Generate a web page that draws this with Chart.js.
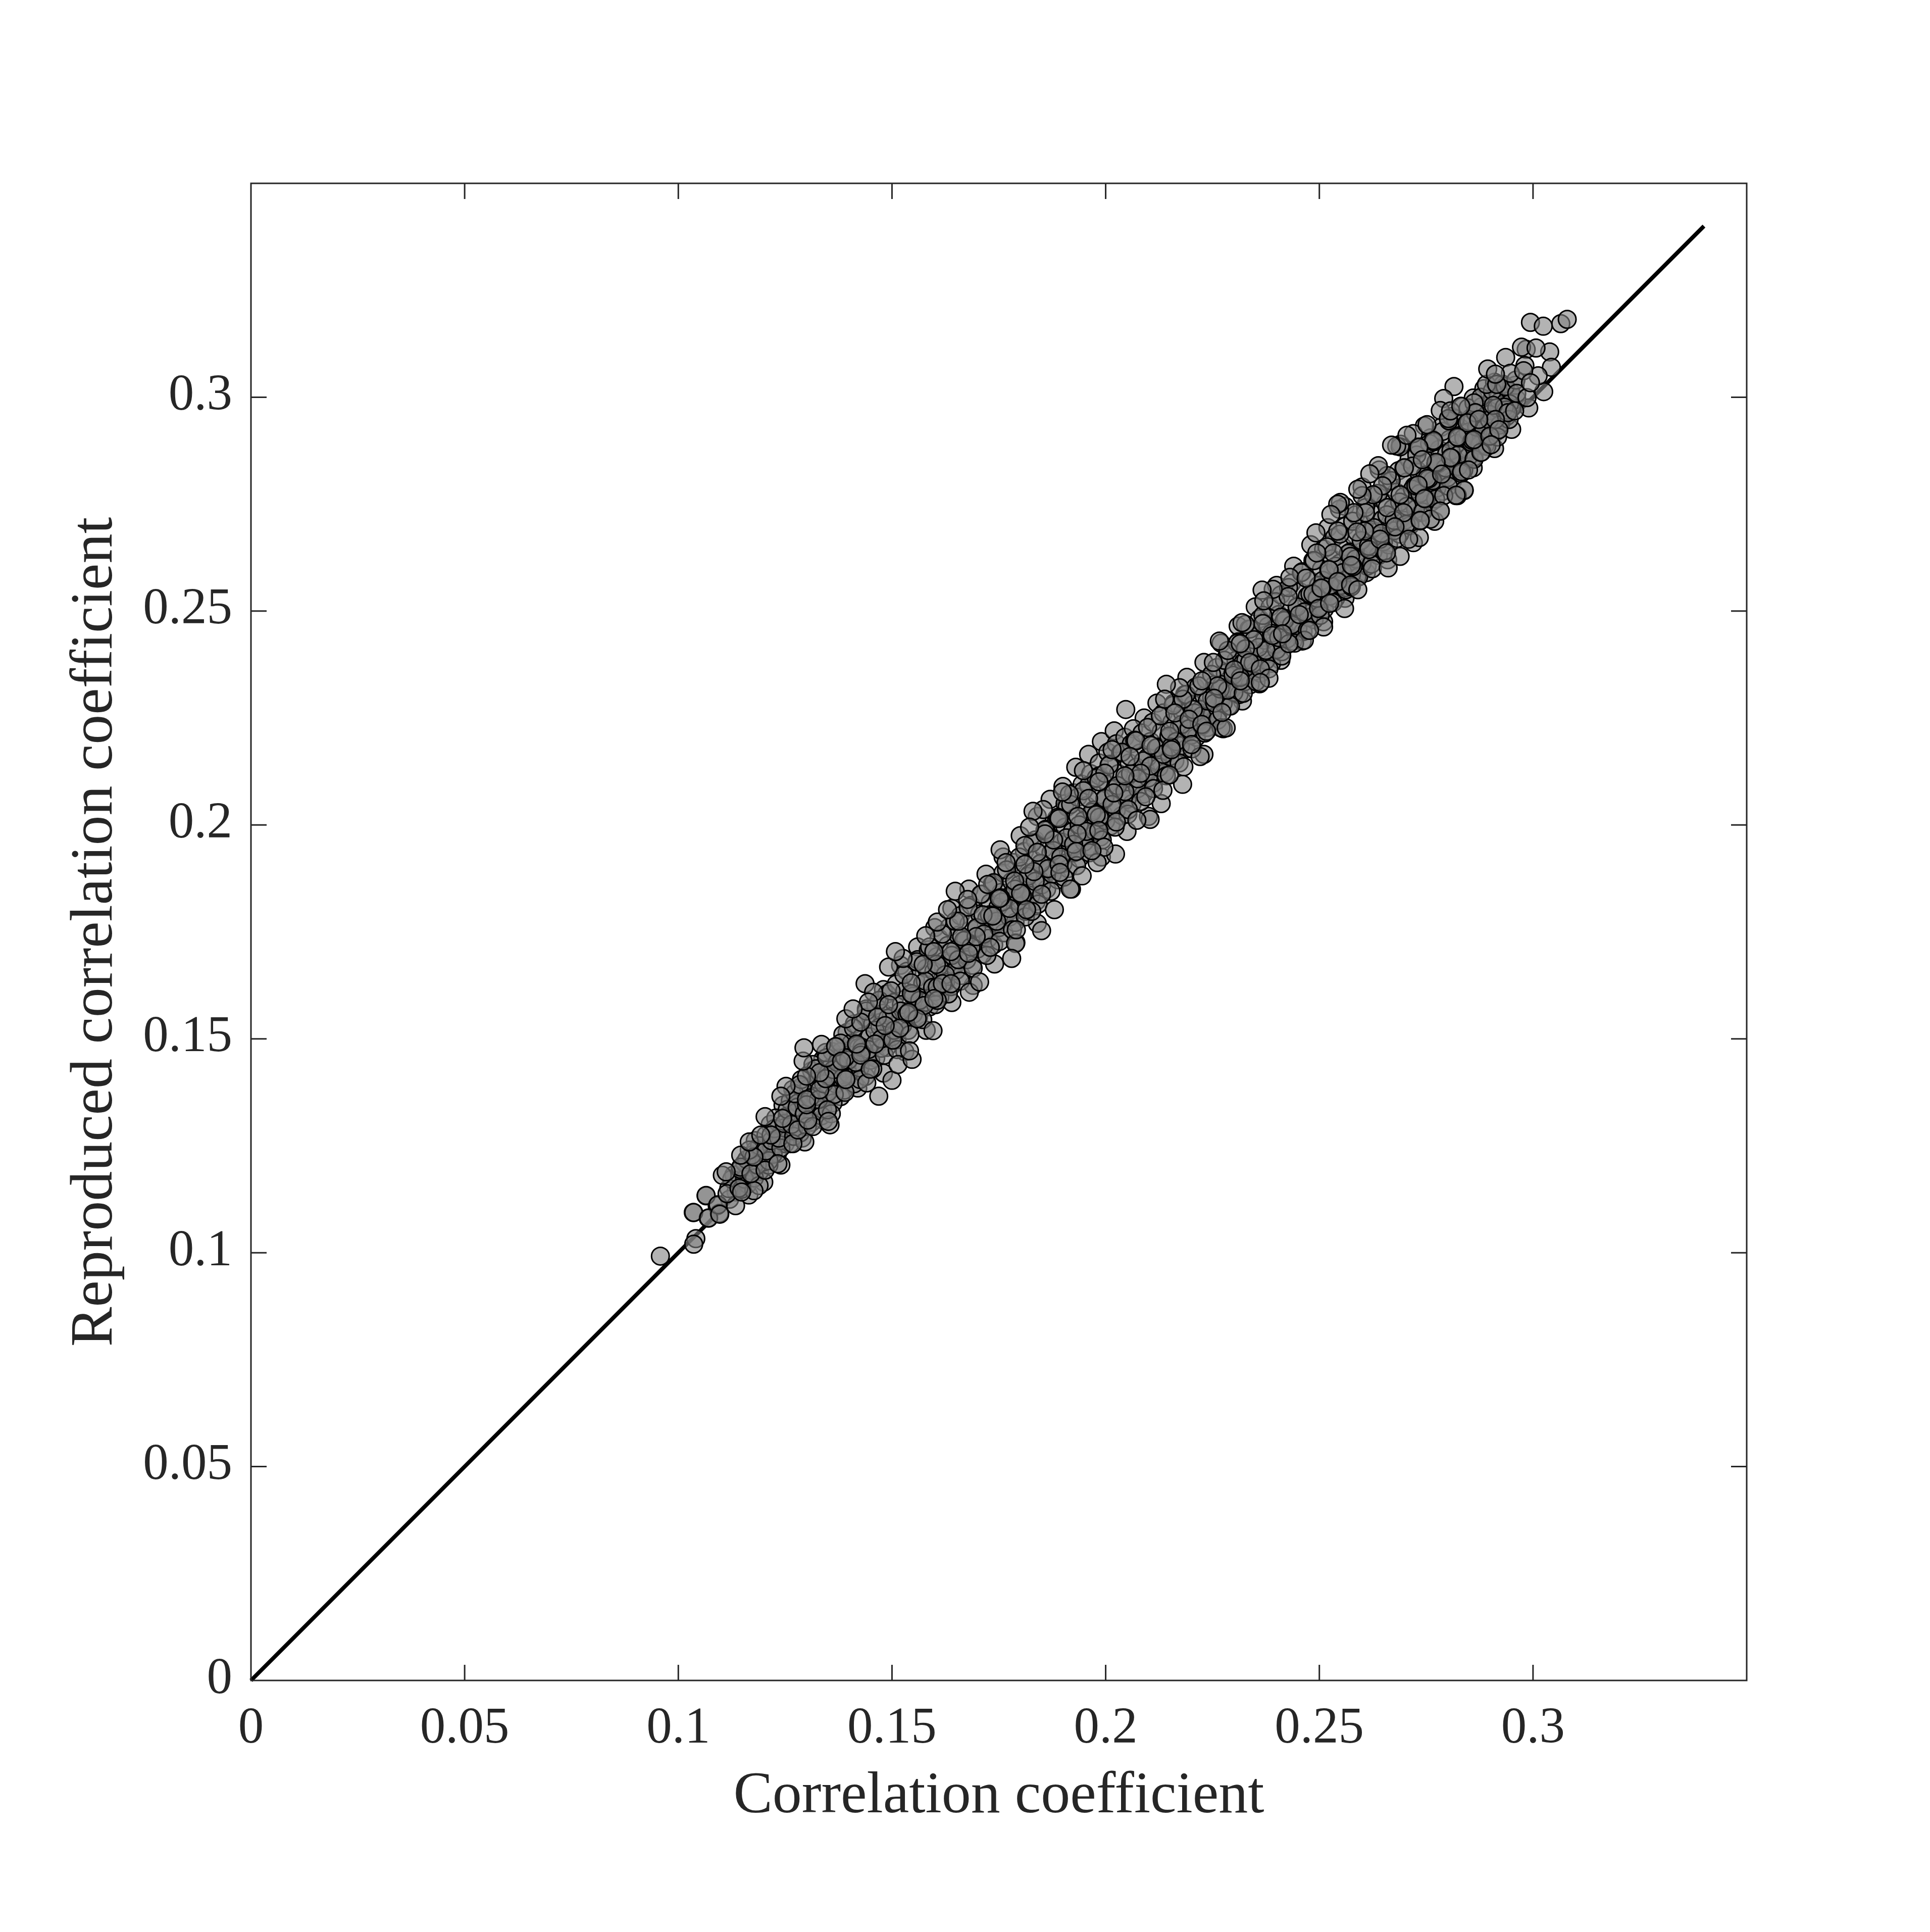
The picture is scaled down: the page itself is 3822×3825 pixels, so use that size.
<!DOCTYPE html>
<html><head><meta charset="utf-8">
<style>html,body{margin:0;padding:0;background:#fff}canvas{display:block}</style>
<script src="https://cdn.jsdelivr.net/npm/chart.js@4"></script>
</head><body><canvas id="c" width="3822" height="3825"></canvas>
<script>
const xTickValues=[0,0.05,0.1,0.15,0.2,0.25,0.3];
const yTickValues=[0,0.05,0.1,0.15,0.2,0.25,0.3];
const xTickLabels=['0','0.05','0.1','0.15','0.2','0.25','0.3'];
const yTickLabels=['0','0.05','0.1','0.15','0.2','0.25','0.3'];
const xAxisTitle='Correlation coefficient';
const yAxisTitle='Reproduced correlation coefficient';
const identityLine=[[0,0],[0.34,0.34]];
const upperEdge=[[.1180,.1262],[.1215,.1300],[.1245,.1345],[.1268,.1382],[.1395,.1515],[.1440,.1570],[.1480,.1615],[.1520,.1672],[.1560,.1715],[.1600,.1760],[.1640,.1805],[.1680,.1850],[.1720,.1885],[.1760,.1925],[.1800,.1975],[.1840,.2020],[.1870,.2060],[.1900,.2090],[.1930,.2135],[.1960,.2165],[.1990,.2195],[.2020,.2220],[.2047,.2270],[.2090,.2250],[.2120,.2285],[.2190,.2345],[.2230,.2380],[.2270,.2425],[.2310,.2465],[.2350,.2510],[.2400,.2560],[.2440,.2605],[.2480,.2655],[.2520,.2695],[.2560,.2745],[.2600,.2790],[.2640,.2830],[.2690,.2890],[.1905,.2050],[.1925,.2075],[.1945,.2095],[.1965,.2120],[.1985,.2145],[.2005,.2170],[.2025,.2190],[.2045,.2205],[.2065,.2225]];
const lowerEdge=[[.1165,.1135],[.1200,.1165],[.1240,.1205],[.1290,.1268],[.1340,.1310],[.1380,.1365],[.1420,.1385],[.1480,.1420],[.1530,.1470],[.1580,.1520],[.1640,.1585],[.1690,.1625],[.1740,.1675],[.1790,.1725],[.1840,.1770],[.1920,.1850],[.1990,.1925],[.2050,.1985],[.2100,.2020],[.2130,.2050],[.2180,.2095],[.2230,.2165],[.2275,.2225],[.2320,.2290],[.2360,.2330],[.2410,.2385],[.2460,.2430],[.2510,.2475],[.2560,.2530],[.2610,.2590],[.2660,.2620],[.2720,.2660],[.2770,.2710],[.2820,.2770],[.2860,.2835],[.2910,.2880],[.2950,.2925],[.2990,.2975]];
const deepLower=[[.1135,.1142],[.1142,.1170],[.1130,.1182],[.1162,.1160],[.1168,.1192],[.1155,.1210],[.1190,.1190],[.1195,.1222],[.1180,.1240],[.1212,.1205],[.1218,.1248],[.1205,.1275],[.1232,.1232],[.1242,.1282],[.1228,.1315],[.1250,.1255],[.1262,.1255],[.1268,.1285],[.1255,.1320],[.1262,.1355],[.1285,.1280],[.1292,.1318],[.1280,.1350],[.1288,.1388],[.1312,.1305],[.1318,.1342],[.1305,.1385],[.1312,.1425],[.1338,.1335],[.1345,.1372],[.1330,.1412],[.1338,.1452],[.1362,.1350],[.1368,.1395],[.1355,.1432],[.1360,.1470],[.1388,.1380],[.1395,.1430],[.1380,.1470],[.1385,.1510],[.1412,.1395],[.1420,.1440],[.1405,.1490],[.1412,.1535],[.1438,.1412],[.1445,.1458],[.1430,.1505],[.1438,.1550],[.1462,.1455],[.1470,.1490],[.1455,.1535],[.1462,.1578],[.1488,.1480],[.1495,.1520],[.1480,.1560],[.1488,.1605],[.1512,.1498],[.1520,.1540],[.1505,.1585],[.1510,.1628],[.1538,.1520],[.1545,.1570],[.1530,.1612],[.1535,.1658],[.1562,.1550],[.1570,.1598],[.1555,.1640],[.1560,.1685],[.1588,.1575],[.1595,.1622],[.1580,.1665],[.1585,.1708],[.1612,.1598],[.1620,.1648],[.1605,.1692],[.1610,.1735],[.1638,.1622],[.1645,.1672],[.1630,.1718],[.1635,.1762],[.1662,.1648],[.1670,.1698],[.1655,.1742],[.1660,.1788],[.1688,.1672],[.1695,.1722],[.1680,.1768],[.1685,.1812],[.1712,.1698],[.1720,.1748],[.1705,.1792],[.1710,.1838],[.1738,.1720],[.1745,.1772],[.1730,.1818],[.1735,.1862],[.1762,.1748],[.1770,.1798],[.1755,.1842],[.1760,.1888],[.1788,.1772],[.1795,.1822],[.1780,.1868],[.1785,.1912]];
const deepMiddle=[[.1812,.1798],[.1820,.1848],[.1805,.1892],[.1810,.1938],[.1838,.1822],[.1845,.1872],[.1830,.1918],[.1835,.1965],[.1862,.1850],[.1870,.1898],[.1855,.1945],[.1860,.1990],[.1888,.1872],[.1895,.1922],[.1880,.1968],[.1885,.2015],[.1912,.1898],[.1920,.1950],[.1905,.1995],[.1910,.2042],[.1938,.1922],[.1945,.1972],[.1930,.2018],[.1935,.2065],[.1962,.1950],[.1970,.1998],[.1955,.2045],[.1960,.2092],[.1988,.1972],[.1995,.2025],[.1980,.2068],[.1985,.2115],[.2012,.1998],[.2020,.2048],[.2005,.2095],[.2010,.2142],[.2038,.2022],[.2045,.2072],[.2030,.2120],[.2035,.2168],[.2062,.2050],[.2070,.2098],[.2055,.2145],[.2060,.2190],[.2088,.2072],[.2095,.2125],[.2080,.2168],[.2085,.2215],[.2112,.2098],[.2120,.2150],[.2105,.2195],[.2110,.2240],[.2138,.2122],[.2145,.2172],[.2130,.2218],[.2135,.2262],[.2162,.2150],[.2170,.2198],[.2155,.2240],[.2160,.2285],[.2188,.2178],[.2195,.2220],[.2180,.2262],[.2185,.2305],[.2212,.2205],[.2220,.2245],[.2205,.2282],[.2210,.2322],[.2238,.2228],[.2245,.2265],[.2230,.2302],[.2235,.2340],[.2262,.2255],[.2270,.2292],[.2255,.2328],[.2260,.2368],[.2288,.2278],[.2295,.2318],[.2280,.2355],[.2285,.2398],[.2312,.2305],[.2320,.2345],[.2305,.2385],[.2310,.2428],[.2338,.2328],[.2345,.2370],[.2330,.2412],[.2335,.2458]];
const deepUpper=[[.2362,.2355],[.2370,.2398],[.2355,.2440],[.2360,.2482],[.2388,.2378],[.2395,.2422],[.2380,.2465],[.2385,.2510],[.2412,.2405],[.2420,.2450],[.2405,.2492],[.2410,.2538],[.2438,.2430],[.2445,.2475],[.2430,.2518],[.2435,.2565],[.2462,.2452],[.2470,.2500],[.2455,.2545],[.2460,.2592],[.2488,.2480],[.2495,.2525],[.2480,.2570],[.2485,.2618],[.2512,.2505],[.2520,.2550],[.2505,.2598],[.2510,.2645],[.2538,.2530],[.2545,.2575],[.2530,.2622],[.2535,.2672],[.2562,.2555],[.2570,.2600],[.2555,.2650],[.2560,.2698],[.2588,.2580],[.2595,.2625],[.2580,.2675],[.2585,.2725],[.2612,.2605],[.2620,.2650],[.2605,.2700],[.2610,.2750],[.2638,.2630],[.2645,.2678],[.2630,.2725],[.2635,.2775],[.2662,.2655],[.2670,.2702],[.2655,.2752],[.2660,.2802],[.2688,.2680],[.2695,.2728],[.2680,.2778],[.2685,.2828],[.2712,.2705],[.2720,.2752],[.2705,.2802],[.2710,.2855],[.2738,.2730],[.2745,.2778],[.2730,.2828],[.2735,.2880],[.2762,.2755],[.2770,.2802],[.2755,.2852],[.2760,.2905],[.2788,.2780],[.2795,.2828],[.2780,.2878],[.2785,.2930],[.2812,.2805],[.2820,.2852],[.2805,.2902],[.2810,.2955],[.2838,.2830],[.2845,.2878],[.2830,.2928],[.2835,.2978],[.2862,.2860],[.2870,.2905],[.2855,.2952],[.2860,.2998],[.2888,.2888],[.2895,.2932],[.2880,.2978],[.2885,.3020],[.2912,.2918],[.2920,.2960],[.2905,.2998],[.2910,.3035],[.2938,.2955],[.2945,.2995],[.2930,.3030],[.2962,.2995],[.2958,.3028]];
const denseLower=[[.1200,.1212],[.1178,.1206],[.1222,.1230],[.1240,.1262],[.1248,.1292],[.1270,.1290],[.1275,.1328],[.1298,.1310],[.1300,.1352],[.1322,.1365],[.1325,.1405],[.1350,.1375],[.1348,.1418],[.1372,.1412],[.1375,.1455],[.1398,.1418],[.1400,.1462],[.1425,.1432],[.1422,.1480],[.1450,.1450],[.1448,.1505],[.1475,.1478],[.1472,.1528],[.1500,.1505],[.1498,.1552],[.1525,.1532],[.1522,.1580],[.1550,.1558],[.1548,.1605],[.1575,.1585],[.1572,.1630],[.1600,.1610],[.1598,.1658],[.1625,.1632],[.1622,.1682],[.1650,.1660],[.1648,.1708],[.1675,.1685],[.1672,.1732],[.1700,.1710],[.1698,.1758],[.1725,.1735],[.1722,.1782],[.1750,.1760],[.1748,.1808],[.1775,.1785],[.1772,.1832],[.1800,.1810],[.1798,.1860],[.1825,.1835],[.1822,.1885],[.1850,.1860],[.1848,.1910],[.1875,.1885],[.1872,.1935],[.1900,.1910],[.1898,.1960],[.1925,.1935],[.1922,.1985],[.1950,.1960],[.1948,.2010]];
const denseUpper=[[.1975,.1985],[.1972,.2035],[.2000,.2010],[.1998,.2060],[.2025,.2035],[.2022,.2085],[.2050,.2060],[.2048,.2110],[.2075,.2085],[.2072,.2135],[.2100,.2110],[.2098,.2158],[.2125,.2135],[.2122,.2182],[.2150,.2160],[.2148,.2205],[.2175,.2185],[.2172,.2228],[.2200,.2210],[.2198,.2250],[.2225,.2232],[.2222,.2270],[.2250,.2258],[.2248,.2298],[.2275,.2285],[.2272,.2328],[.2300,.2310],[.2298,.2355],[.2325,.2335],[.2322,.2380],[.2350,.2360],[.2348,.2408],[.2375,.2385],[.2372,.2432],[.2400,.2410],[.2398,.2458],[.2425,.2435],[.2422,.2482],[.2450,.2460],[.2448,.2510],[.2475,.2485],[.2472,.2535],[.2500,.2510],[.2498,.2560],[.2525,.2535],[.2522,.2588],[.2550,.2560],[.2548,.2612],[.2575,.2585],[.2572,.2638],[.2600,.2612],[.2598,.2665],[.2625,.2638],[.2622,.2690],[.2650,.2662],[.2648,.2715],[.2675,.2688],[.2672,.2740],[.2700,.2712],[.2698,.2768],[.2725,.2738],[.2722,.2792],[.2750,.2762],[.2748,.2818],[.2775,.2788],[.2772,.2842],[.2800,.2812],[.2798,.2868],[.2825,.2838],[.2822,.2892],[.2850,.2862],[.2848,.2918],[.2875,.2888],[.2872,.2942],[.2900,.2912],[.2898,.2968],[.2925,.2940],[.2922,.2990],[.2950,.2975],[.2948,.3012]];
const hiddenLower=[[.1120,.1125],[.1118,.1150],[.1125,.1172],[.1148,.1148],[.1155,.1172],[.1145,.1195],[.1160,.1218],[.1178,.1175],[.1185,.1205],[.1172,.1228],[.1190,.1250],[.1212,.1215],[.1205,.1238],[.1218,.1262],[.1225,.1290],[.1240,.1245],[.1235,.1268],[.1248,.1302],[.1255,.1335],[.1270,.1272],[.1265,.1300],[.1278,.1340],[.1272,.1372],[.1302,.1295],[.1295,.1325],[.1308,.1362],[.1288,.1405],[.1315,.1440],[.1335,.1320],[.1328,.1358],[.1340,.1395],[.1322,.1430],[.1345,.1468],[.1358,.1325],[.1365,.1370],[.1352,.1412],[.1372,.1445],[.1390,.1375],[.1385,.1410],[.1398,.1450],[.1380,.1490],[.1425,.1405],[.1415,.1445],[.1430,.1480],[.1410,.1525],[.1455,.1430],[.1445,.1475],[.1460,.1520],[.1440,.1565],[.1482,.1462],[.1475,.1500],[.1490,.1548],[.1470,.1590],[.1512,.1475],[.1505,.1520],[.1520,.1565],[.1498,.1612],[.1542,.1510],[.1535,.1558],[.1550,.1600],[.1528,.1650],[.1572,.1545],[.1565,.1590],[.1578,.1635],[.1558,.1680],[.1602,.1580],[.1595,.1620],[.1610,.1670],[.1588,.1715],[.1632,.1605],[.1625,.1650],[.1640,.1695],[.1618,.1745],[.1660,.1635],[.1655,.1685],[.1668,.1730],[.1648,.1775],[.1690,.1665],[.1685,.1715],[.1698,.1760],[.1678,.1808],[.1722,.1695],[.1715,.1745],[.1728,.1790],[.1708,.1838],[.1752,.1728],[.1745,.1775],[.1758,.1820],[.1738,.1865],[.1782,.1755],[.1775,.1805],[.1788,.1850],[.1768,.1895]];
const hiddenMiddle=[[.1812,.1785],[.1805,.1835],[.1818,.1880],[.1798,.1925],[.1842,.1815],[.1835,.1868],[.1848,.1910],[.1828,.1958],[.1872,.1845],[.1865,.1898],[.1878,.1940],[.1858,.1988],[.1902,.1878],[.1895,.1925],[.1908,.1970],[.1888,.2018],[.1932,.1905],[.1925,.1955],[.1938,.2000],[.1918,.2048],[.1962,.1935],[.1955,.1985],[.1968,.2030],[.1948,.2080],[.1992,.1965],[.1985,.2018],[.1998,.2062],[.1978,.2110],[.2022,.1995],[.2015,.2048],[.2028,.2092],[.2008,.2140],[.2052,.2025],[.2045,.2078],[.2058,.2120],[.2038,.2170],[.2082,.2055],[.2075,.2108],[.2088,.2150],[.2068,.2198],[.2112,.2085],[.2105,.2138],[.2118,.2180],[.2098,.2228],[.2142,.2115],[.2135,.2165],[.2148,.2208],[.2128,.2255],[.2172,.2145],[.2165,.2195],[.2178,.2235],[.2158,.2280],[.2202,.2178],[.2195,.2225],[.2208,.2262],[.2188,.2305],[.2232,.2215],[.2225,.2255],[.2238,.2290],[.2218,.2325],[.2262,.2245],[.2255,.2285],[.2268,.2318],[.2248,.2352],[.2292,.2278],[.2285,.2315],[.2298,.2350],[.2278,.2385],[.2322,.2308],[.2315,.2345],[.2328,.2385],[.2308,.2425]];
const hiddenUpper=[[.2352,.2335],[.2345,.2378],[.2358,.2415],[.2338,.2458],[.2382,.2365],[.2375,.2408],[.2388,.2448],[.2368,.2490],[.2412,.2395],[.2405,.2438],[.2418,.2478],[.2398,.2522],[.2442,.2425],[.2435,.2468],[.2448,.2510],[.2428,.2555],[.2472,.2455],[.2465,.2498],[.2478,.2540],[.2458,.2590],[.2502,.2490],[.2495,.2530],[.2508,.2572],[.2488,.2618],[.2532,.2520],[.2525,.2560],[.2538,.2605],[.2518,.2650],[.2562,.2550],[.2555,.2590],[.2568,.2635],[.2548,.2680],[.2592,.2580],[.2585,.2622],[.2598,.2665],[.2578,.2710],[.2622,.2610],[.2615,.2652],[.2628,.2695],[.2608,.2742],[.2652,.2640],[.2645,.2682],[.2658,.2725],[.2638,.2775],[.2682,.2670],[.2675,.2712],[.2688,.2755],[.2668,.2805],[.2712,.2700],[.2705,.2745],[.2718,.2785],[.2698,.2835],[.2742,.2732],[.2735,.2775],[.2748,.2815],[.2728,.2865],[.2772,.2762],[.2765,.2805],[.2778,.2845],[.2758,.2892],[.2802,.2792],[.2795,.2835],[.2808,.2875],[.2788,.2920],[.2832,.2822],[.2825,.2865],[.2838,.2905],[.2818,.2950],[.2862,.2855],[.2855,.2895],[.2868,.2930],[.2848,.2975],[.2892,.2885],[.2885,.2925],[.2898,.2960],[.2878,.3000],[.2922,.2935],[.2915,.2975],[.2905,.3015],[.2945,.2985],[.2935,.3025],[.2960,.3040]];
const visibleA=[[.0958,.0992],[.1041,.1033],[.1036,.1020],[.1035,.1094],[.1065,.1133],[.1070,.1081],[.1091,.1110],[.1096,.1092],[.1036,.1094],[.1071,.1081],[.1134,.1110],[.1065,.1134],[.1093,.1112],[.1097,.1090],[.1114,.1138],[.1189,.1157],[.1177,.1145],[.1142,.1151],[.1148,.1142],[.1146,.1200],[.1170,.1185],[.1103,.1181],[.1112,.1189],[.1203,.1193],[.1233,.1208],[.1166,.1240],[.1177,.1224],[.1146,.1228],[.1296,.1259],[.1268,.1255],[.1166,.1259],[.1280,.1287],[.1217,.1275],[.1193,.1275],[.1315,.1295],[.1355,.1299],[.1349,.1334],[.1351,.1307],[.1303,.1310],[.1244,.1314],[.1203,.1318],[.1284,.1393],[.1252,.1389],[.1240,.1366],[.1300,.1346],[.1300,.1358],[.1331,.1381],[.1363,.1428],[.1390,.1456],[.1441,.1397],[.1469,.1366],[.1392,.1405],[.1345,.1407],[.1331,.1421],[.1347,.1456],[.1418,.1485],[.1428,.1468],[.1369,.1481],[.1335,.1487],[.1300,.1413],[.1292,.1448],[.1294,.1479]];
const visibleB=[[.1392,.1405],[.1500,.1403],[.1514,.1440],[.1547,.1452],[.1427,.1462],[.1417,.1488],[.1368,.1482],[.1541,.1472],[.1502,.1497],[.1518,.1525],[.1596,.1519],[.1392,.1547],[.1427,.1539],[.1466,.1551],[.1492,.1580],[.1545,.1606],[.1606,.1621],[.1545,.1631],[.1437,.1629],[.1618,.1629],[.1679,.1700],[.1604,.1674],[.1573,.1674],[.1492,.1668],[.1526,.1688],[.1508,.1704],[.1638,.1704],[.1598,.1704],[.1789,.1723],[.1730,.1714],[.1579,.1741],[.1697,.1739],[.1663,.1739],[.1606,.1773],[.1656,.1775],[.1736,.1788],[.1801,.1841],[.1754,.1830],[.1648,.1845],[.1681,.1609],[.1705,.1633],[.1638,.1629],[.1575,.1578],[.1457,.1609],[.1445,.1586],[.1780,.1688],[.1630,.1802],[.1791,.1755],[.1827,.1798],[.1677,.1826],[.1713,.1790],[.1460,.1488],[.1484,.1531],[.1559,.1547],[.1606,.1590],[.1539,.1562],[.1382,.1448],[.1449,.1429],[.1598,.1594],[.1409,.1570]];
const visibleC=[[.2071,.2197],[.2106,.2186],[.2153,.2182],[.2057,.2160],[.2183,.2136],[.2082,.2121],[.2045,.2115],[.1998,.2121],[.2019,.2075],[.1984,.2101],[.1915,.2072],[.1899,.2077],[.1960,.2062],[.2053,.2036],[.1978,.2024],[.1935,.2020],[.1891,.2015],[.2025,.2007],[.2104,.2013],[.1984,.1987],[.1933,.1979],[.1854,.2036],[.1830,.2032],[.1878,.1965],[.1858,.1979],[.1822,.1995],[.1931,.1938],[.2023,.1932],[.1996,.1948],[.1753,.1942],[.1811,.1952],[.1840,.1936],[.1832,.1891],[.1891,.1908],[.1787,.1869],[.1751,.1828],[.1801,.1840],[.1736,.1787],[.1880,.1802],[.1850,.1753],[.1917,.1850],[.1980,.1912],[.1945,.1881],[.2073,.2011],[.2134,.2081],[.2149,.2117],[.1948,.2127],[.2015,.2176],[.1767,.1912],[.1811,.1908],[.1724,.1861],[.1850,.1838],[.1815,.1802],[.1893,.1889],[.1968,.1940],[.2094,.2066]];
const visibleD=[[.2431,.2579],[.2469,.2577],[.2506,.2553],[.2522,.2597],[.2579,.2604],[.2544,.2569],[.2485,.2540],[.2498,.2506],[.2453,.2492],[.2427,.2534],[.2392,.2551],[.2366,.2549],[.2370,.2524],[.2410,.2486],[.2368,.2471],[.2327,.2469],[.2319,.2473],[.2347,.2433],[.2327,.2412],[.2337,.2380],[.2286,.2408],[.2266,.2430],[.2315,.2424],[.2301,.2363],[.2362,.2365],[.2262,.2325],[.2254,.2296],[.2205,.2270],[.2181,.2294],[.2173,.2321],[.2225,.2337],[.2270,.2227],[.2282,.2227],[.2382,.2343],[.2362,.2333],[.2315,.2337],[.2465,.2432],[.2510,.2463],[.2559,.2506],[.2575,.2557],[.2524,.2518],[.2429,.2424],[.2390,.2443],[.2477,.2455],[.2414,.2447],[.2252,.2380],[.2142,.2329],[.2138,.2294],[.2162,.2262],[.2195,.2247],[.2272,.2263],[.2225,.2235],[.2150,.2219],[.2221,.2160],[.2154,.2176],[.2201,.2188],[.2236,.2219]];
const visibleE=[[.2803,.2945],[.2866,.2962],[.2850,.2943],[.2825,.2905],[.2880,.2872],[.2809,.2858],[.2768,.2896],[.2732,.2884],[.2689,.2884],[.2681,.2886],[.2746,.2933],[.2774,.2846],[.2718,.2839],[.2699,.2835],[.2659,.2817],[.2648,.2793],[.2726,.2793],[.2756,.2809],[.2689,.2772],[.2746,.2764],[.2659,.2742],[.2626,.2772],[.2600,.2770],[.2703,.2703],[.2697,.2730],[.2608,.2730],[.2581,.2730],[.2547,.2738],[.2549,.2754],[.2783,.2734],[.2839,.2782],[.2823,.2770],[.2606,.2687],[.2588,.2685],[.2573,.2628],[.2616,.2644],[.2533,.2636],[.2494,.2636],[.2523,.2597],[.2575,.2607],[.2624,.2599],[.2661,.2601],[.2504,.2554],[.2543,.2569],[.2573,.2561],[.2590,.2550],[.2734,.2672],[.2709,.2668],[.2677,.2697],[.2642,.2668],[.2543,.2687],[.2492,.2683],[.2937,.2970],[.2917,.2907],[.2898,.2947],[.2858,.2899],[.2791,.2770],[.2760,.2715],[.2736,.2711],[.2689,.2628],[.2657,.2636],[.2720,.2915],[.2705,.2911],[.2669,.2888],[.2638,.2840],[.2618,.2821],[.2590,.2785],[.2543,.2750],[.2527,.2726]];
const visibleTop=[[.2994,.3175],[.3024,.3166],[.3065,.3172],[.3080,.3182],[.3039,.3106],[.3043,.3070],[.3025,.3013],[.3012,.3050],[.2936,.3093],[.2984,.3112],[.2973,.3117],[.3007,.3115],[.2981,.3074],[.2947,.3056],[.2978,.3062],[.2891,.3030],[.2894,.3066],[.2915,.3030],[.2962,.3009],[.2986,.2999],[.2815,.3025],[.2791,.2997],[.2783,.2969],[.2862,.2987],[.2865,.2964],[.2933,.2977],[.2907,.2981],[.2802,.2950],[.2846,.2940],[.2944,.2948],[.2941,.2964],[.2912,.2948],[.2873,.2948],[.2878,.2871],[.2823,.2907],[.2862,.2901],[.2899,.2909],[.2767,.2899],[.2733,.2883],[.2807,.2859],[.2773,.2848],[.2752,.2810],[.2731,.2795],[.2786,.2820],[.2833,.2826],[.2849,.2830],[.2746,.2763],[.2783,.2734],[.2839,.2783],[.2820,.2771],[.2736,.2712],[.2741,.2854],[.2752,.2936],[.2807,.2968],[.2831,.2979],[.2912,.3054],[.2994,.3034],[.2957,.2968],[.2920,.2924],[.2902,.2889]];
const toXY=a=>a.map(([x,y])=>({x,y}));
const scatterPoints=[upperEdge,lowerEdge,deepLower,deepMiddle,deepUpper,denseLower,denseUpper,hiddenLower,hiddenMiddle,hiddenUpper,visibleA,visibleB,visibleC,visibleD,visibleE,visibleTop].flatMap(toXY);
const ink='#262626';
const frame={id:'frame',afterDraw(ch){
  const {ctx,chartArea:a,scales:{x,y}}=ch;const T=31;
  ctx.save();ctx.strokeStyle=ink;ctx.lineWidth=3;ctx.beginPath();
  ctx.rect(a.left,a.top,a.right-a.left,a.bottom-a.top);
  xTickValues.forEach(v=>{const p=x.getPixelForValue(v);ctx.moveTo(p,a.bottom);ctx.lineTo(p,a.bottom-T);ctx.moveTo(p,a.top);ctx.lineTo(p,a.top+T);});
  yTickValues.forEach(v=>{const p=y.getPixelForValue(v);ctx.moveTo(a.left,p);ctx.lineTo(a.left+T,p);ctx.moveTo(a.right,p);ctx.lineTo(a.right-T,p);});
  ctx.stroke();ctx.restore();
}};
const tickFont={family:'"Liberation Serif"',size:101};
new Chart(document.getElementById('c'),{
  type:'scatter',
  data:{datasets:[
    {data:scatterPoints,order:1,pointRadius:17.5,pointBorderWidth:3,pointBackgroundColor:'rgba(128,128,128,0.6)',pointBorderColor:'#000',showLine:false},
    {data:toXY(identityLine),order:2,showLine:true,borderColor:'#000',borderWidth:8,pointRadius:0,clip:false}
  ]},
  options:{responsive:false,animation:false,devicePixelRatio:1,
    layout:{padding:{left:0,top:363,right:363,bottom:0}},
    plugins:{legend:{display:false},tooltip:{enabled:false}},
    scales:{
      x:{type:'linear',min:0,max:0.35,
        afterFit(s){s.height=498;},
        afterBuildTicks(s){s.ticks=xTickValues.map(value=>({value}));},
        grid:{display:false,drawTicks:false,tickLength:0},border:{display:false},
        ticks:{autoSkip:false,maxRotation:0,padding:36,color:ink,font:tickFont,callback:(v)=>xTickLabels[xTickValues.indexOf(v)]},
        title:{display:true,text:xAxisTitle,color:ink,font:{family:'"Liberation Serif"',size:116},padding:{top:0,bottom:198}}},
      y:{type:'linear',min:0,max:0.35,
        afterFit(s){s.width=497;},
        afterBuildTicks(s){s.ticks=yTickValues.map(value=>({value}));},
        grid:{display:false,drawTicks:false,tickLength:0},border:{display:false},
        ticks:{autoSkip:false,padding:37,labelOffset:-2,color:ink,font:tickFont,callback:(v)=>yTickLabels[yTickValues.indexOf(v)]},
        title:{display:true,text:yAxisTitle,color:ink,font:{family:'"Liberation Serif"',size:118},padding:{top:119,bottom:0}}}
    }
  },
  plugins:[frame]
});
</script></body></html>
